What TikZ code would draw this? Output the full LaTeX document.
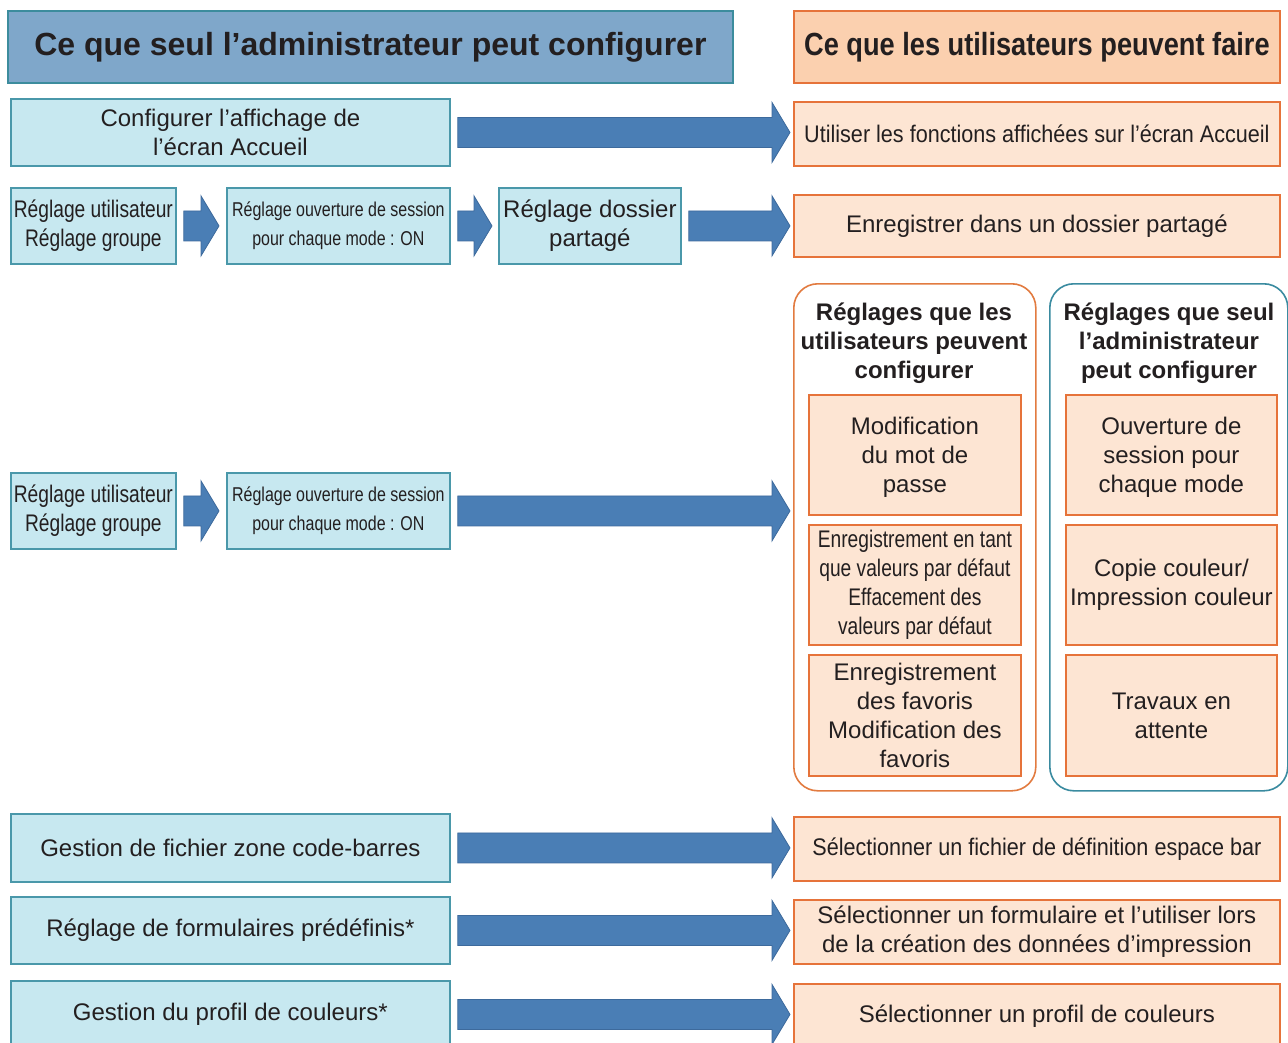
\documentclass[tikz,border=0pt]{standalone}
\usepackage{fontspec}
\setmainfont{Liberation Sans}
\newfontfamily\nA[FakeStretch=0.8]{Liberation Sans}
\newfontfamily\nC[FakeStretch=0.9]{Liberation Sans}
\newfontfamily\nD[FakeStretch=0.85]{Liberation Sans}
\usetikzlibrary{calc}
\definecolor{txt}{HTML}{231F20}
\definecolor{hlfill}{HTML}{7FA7CA}
\definecolor{hlborder}{HTML}{3C8C9D}
\definecolor{lfill}{HTML}{C7E8F0}
\definecolor{lborder}{HTML}{4A98AA}
\definecolor{hrfill}{HTML}{FBD0AF}
\definecolor{rborder}{HTML}{E6733A}
\definecolor{rfill}{HTML}{FDE5D3}
\definecolor{arrfill}{HTML}{4A7EB5}
\definecolor{arredge}{HTML}{3D6A9C}
\definecolor{gborderU}{HTML}{E27B40}
\definecolor{gborderA}{HTML}{3A8BA0}
\newcommand\fs[2]{\fontsize{#1}{#2}\selectfont}
\tikzset{
  base/.style={anchor=north west, inner sep=0pt, align=center, text=txt, line width=1.8pt},
  hleft/.style={base, draw=hlborder, fill=hlfill, font=\fs{32}{38}\bfseries},
  hright/.style={base, draw=rborder, fill=hrfill, font=\fs{32}{38}\nD\bfseries},
  lbox/.style={base, draw=lborder, fill=lfill, font=\fs{24}{29}},
  rbox/.style={base, draw=rborder, fill=rfill, font=\fs{24}{29}},
  gbox/.style={base, fill=white, rounded corners=24pt, line width=1.6pt},
  gtitle/.style={align=center, text=txt, inner sep=0pt, font=\fs{24}{29}\bfseries},
  blockarrow/.style={fill=arrfill, draw=arredge, line width=0.8pt, line join=miter},
}
% block arrow from node #1 to node #2, end gap #3 (pt)
\newcommand\barr[3]{%
  \path[blockarrow] let \p1=(#1.east), \p2=(#2.west) in
    (\x1+7pt,\y1+15pt) -- (\x2-#3pt-18pt,\y1+15pt) -- (\x2-#3pt-18pt,\y1+30pt)
    -- (\x2-#3pt,\y1) -- (\x2-#3pt-18pt,\y1-30pt) -- (\x2-#3pt-18pt,\y1-15pt)
    -- (\x1+7pt,\y1-15pt) -- cycle;}
\begin{document}
\begin{tikzpicture}[x=1pt,y=-1pt]
\useasboundingbox (0,0) rectangle (1288,1042);
\clip (0,0) rectangle (1288,1042);
% headers
\node[hleft, minimum width=725pt, minimum height=72pt] (hL) at (7,10) {Ce que seul l’administrateur peut configurer};
\node[hright, minimum width=486pt, minimum height=72pt] (hR) at (793,10) {Ce que les utilisateurs peuvent faire};
% row 1
\node[lbox, minimum width=439pt, minimum height=67pt] (a1) at (10,98) {Configurer l’affichage de\\l’écran Accueil};
\node[rbox, minimum width=486pt, minimum height=64pt] (u1) at (793,101) {\nC Utiliser les fonctions affichées sur l’écran Accueil};
% row 2
\node[lbox, minimum width=165pt, minimum height=76pt] (a2a) at (10,187) {\nA Réglage utilisateur\\\nA Réglage groupe};
\node[lbox, minimum width=223pt, minimum height=76pt, font=\fs{20}{29}] (a2b) at (226,187) {\nA Réglage ouverture de session\\\nA pour chaque mode : ON};
\node[lbox, minimum width=182pt, minimum height=76pt] (a2c) at (498,187) {Réglage dossier\\partagé};
\node[rbox, minimum width=486pt, minimum height=62pt] (u2) at (793,194) {Enregistrer dans un dossier partagé};
% row 3
\node[lbox, minimum width=165pt, minimum height=76pt] (a3a) at (10,472) {\nA Réglage utilisateur\\\nA Réglage groupe};
\node[lbox, minimum width=223pt, minimum height=76pt, font=\fs{20}{29}] (a3b) at (226,472) {\nA Réglage ouverture de session\\\nA pour chaque mode : ON};
% groups
\node[gbox, draw=gborderU, minimum width=242pt, minimum height=507pt] (gU) at (793,283) {};
\node[gbox, draw=gborderA, minimum width=238pt, minimum height=507pt] (gA) at (1049,283) {};
\node[gtitle] (tU) at (914,343) {Réglages que les\\utilisateurs peuvent\\configurer};
\node[gtitle] (tA) at (1169,343) {Réglages que seul\\l’administrateur\\peut configurer};
\node[rbox, minimum width=212pt, minimum height=120pt, text depth=1pt] (gU1) at (808,394) {Modification\\du mot de\\passe};
\node[rbox, minimum width=212pt, minimum height=120pt] (gU2) at (808,524) {\nA Enregistrement en tant\\\nA que valeurs par défaut\\\nA Effacement des\\\nA valeurs par défaut};
\node[rbox, minimum width=212pt, minimum height=121pt] (gU3) at (808,654) {Enregistrement\\des favoris\\Modification des\\favoris};
\node[rbox, minimum width=211pt, minimum height=120pt, text depth=1pt] (gA1) at (1065,394) {Ouverture de\\session pour\\chaque mode};
\node[rbox, minimum width=211pt, minimum height=120pt] (gA2) at (1065,524) {Copie couleur/\\Impression couleur};
\node[rbox, minimum width=211pt, minimum height=121pt] (gA3) at (1065,654) {Travaux en\\attente};
% rows 4-6
\node[lbox, minimum width=439pt, minimum height=68pt] (a4) at (10,813) {Gestion de fichier zone code-barres};
\node[rbox, minimum width=486pt, minimum height=64pt] (u4) at (793,816) {\nC Sélectionner un fichier de définition espace bar};
\node[lbox, minimum width=439pt, minimum height=67pt] (a5) at (10,896) {Réglage de formulaires prédéfinis*};
\node[rbox, minimum width=486pt, minimum height=64pt] (u5) at (793,899) {Sélectionner un formulaire et l’utiliser lors\\de la création des données d’impression};
\node[lbox, minimum width=439pt, minimum height=67pt] (a6) at (10,980) {Gestion du profil de couleurs*};
\node[rbox, minimum width=486pt, minimum height=64pt] (u6) at (793,983) {Sélectionner un profil de couleurs};
% arrows
\barr{a1}{u1}{3}
\barr{a2a}{a2b}{7}
\barr{a2b}{a2c}{6}
\barr{a2c}{u2}{3}
\barr{a3a}{a3b}{7}
\barr{a3b}{gU}{3}
\barr{a4}{u4}{3}
\barr{a5}{u5}{3}
\barr{a6}{u6}{3}
\end{tikzpicture}
\end{document}
